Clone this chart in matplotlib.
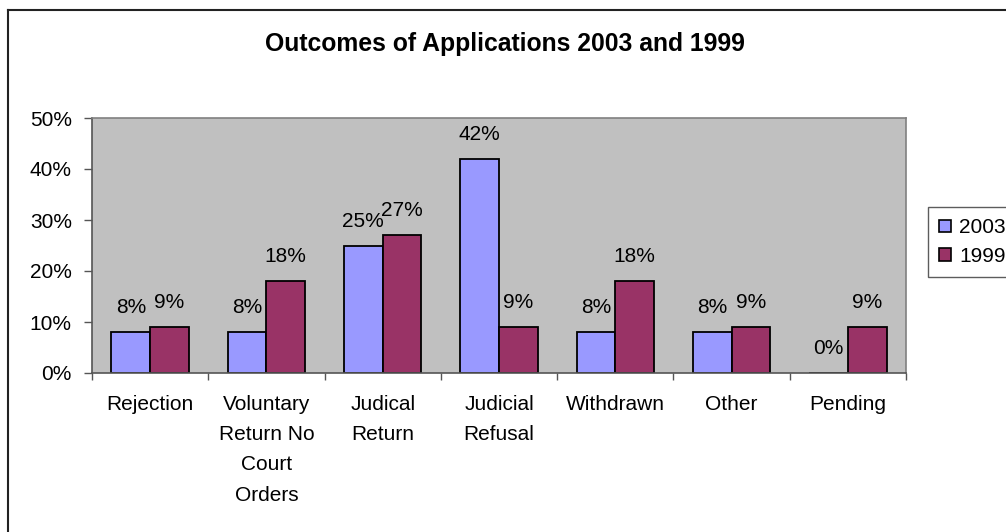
import matplotlib
matplotlib.use("Agg")
import matplotlib.pyplot as plt
from matplotlib.lines import Line2D
from matplotlib.patches import Patch
import numpy as np

plt.rcParams['font.family'] = ['Liberation Sans', 'DejaVu Sans']

categories = ["Rejection", "Voluntary\nReturn No\nCourt\nOrders", "Judical\nReturn",
              "Judicial\nRefusal", "Withdrawn", "Other", "Pending"]
series_names = ["2003", "1999"]
values_2003 = [8, 8, 25, 42, 8, 8, 0]
values_1999 = [9, 18, 27, 9, 18, 9, 9]
y_ticks = [0, 10, 20, 30, 40, 50]

col_2003 = "#9999FF"
col_1999 = "#993366"
FS = 15

W, H = 1006, 532
fig = plt.figure(figsize=(W / 100, H / 100), dpi=100)
ax = fig.add_axes([92 / W, 1 - 373 / H, (906 - 92) / W, (373 - 118) / H])
ax.set_facecolor("#C0C0C0")

x = np.arange(len(categories))
bw = 1 / 3
b1 = ax.bar(x - bw / 2, values_2003, bw, color=col_2003, edgecolor="black", linewidth=1.3)
b2 = ax.bar(x + bw / 2, values_1999, bw, color=col_1999, edgecolor="black", linewidth=1.3)

for bars, vals in ((b1, values_2003), (b2, values_1999)):
    for rect, v in zip(bars, vals):
        ax.annotate(f"{v}%", (rect.get_x() + rect.get_width() / 2, v),
                    xytext=(0, 17.5), textcoords="offset points",
                    ha="center", va="center", fontsize=FS, color="black")

ax.set_xlim(-0.5, len(categories) - 0.5)
ax.set_ylim(0, 50)
ax.set_yticks(y_ticks)
ax.set_yticklabels([f"{t}%" for t in y_ticks], fontsize=FS)
ax.set_xticks(np.arange(len(categories) + 1) - 0.5, minor=False)
ax.set_xticklabels([])
ax.set_xticks(x, minor=True)
ax.set_xticklabels(categories, minor=True, fontsize=FS, linespacing=1.74, va="top")
ax.tick_params(axis="x", which="minor", length=0, pad=16)
ax.tick_params(axis="x", which="major", length=5, width=1, color="#555555", direction="out")
ax.tick_params(axis="y", length=6, width=1, color="#555555", direction="out", pad=8.5)

for s in ("left", "bottom"):
    ax.spines[s].set_color("#555555")
    ax.spines[s].set_linewidth(1.2)
for s in ("top", "right"):
    ax.spines[s].set_color("#808080")
    ax.spines[s].set_linewidth(1.2)

fig.text(505 / W, 1 - 44 / H, "Outcomes of Applications 2003 and 1999",
         ha="center", va="center", fontsize=17.8, fontweight="bold")

handles = [Patch(facecolor=col_2003, edgecolor="black", linewidth=1.2),
           Patch(facecolor=col_1999, edgecolor="black", linewidth=1.2)]
leg = fig.legend(handles, series_names, loc="upper left",
                 bbox_to_anchor=(928 / W, 1 - 207 / H), fontsize=FS,
                 handlelength=0.55, handleheight=0.55, handletextpad=0.4,
                 borderpad=0.55, labelspacing=0.45, frameon=True, fancybox=False,
                 borderaxespad=0)
leg.get_frame().set_edgecolor("#333333")
leg.get_frame().set_linewidth(1.0)

fig.add_artist(Line2D([8 / W, 1], [1 - 10 / H, 1 - 10 / H], color="#222222", lw=1.5))
fig.add_artist(Line2D([8 / W, 8 / W], [0, 1 - 10 / H], color="#222222", lw=1.5))

fig.savefig("out.png", dpi=100)
